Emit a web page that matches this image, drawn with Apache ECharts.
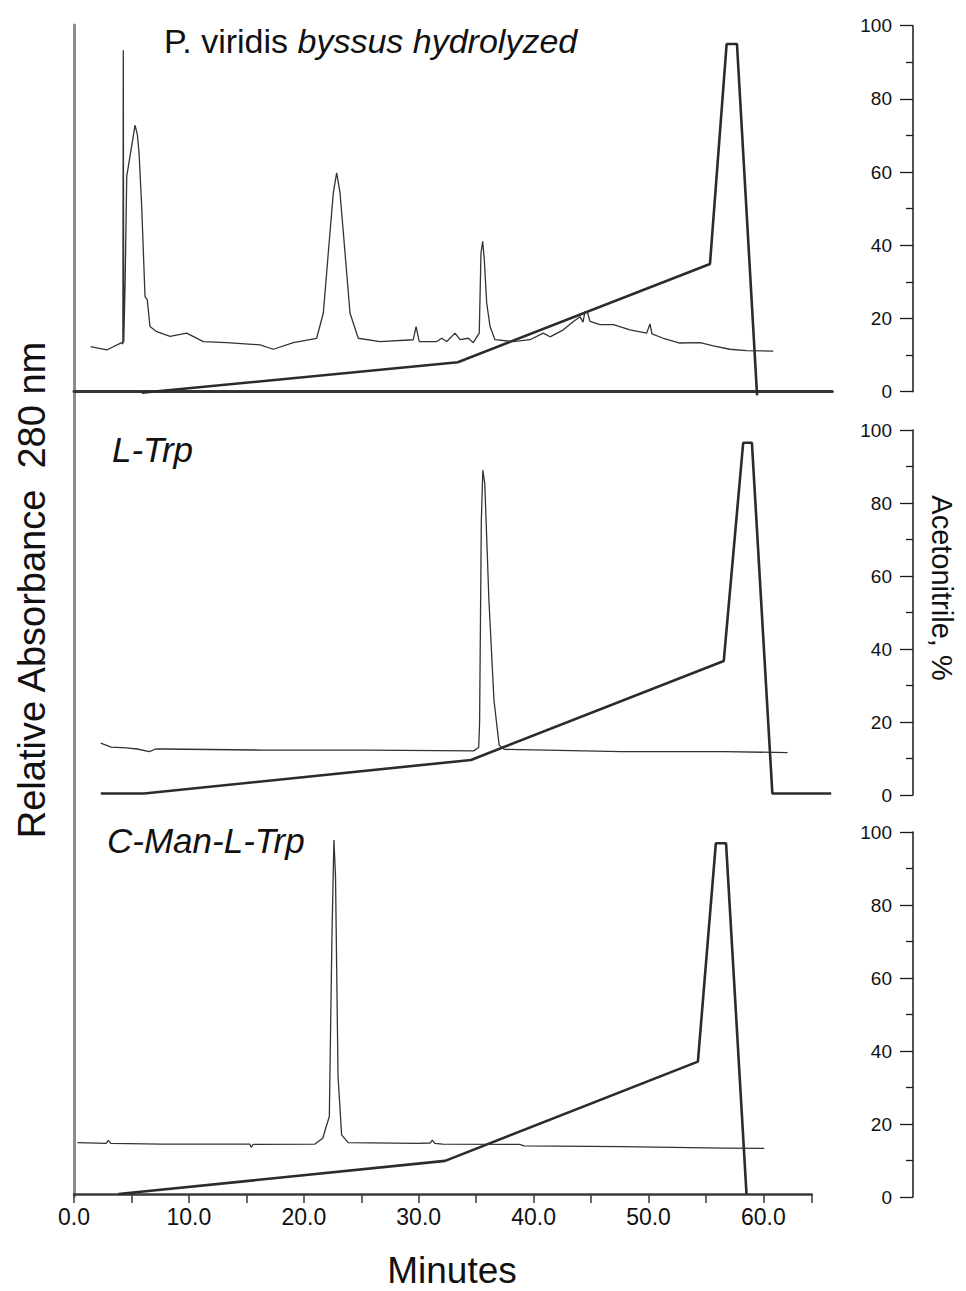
<!DOCTYPE html>
<html>
<head>
<meta charset="utf-8">
<script src="https://cdn.jsdelivr.net/npm/echarts@6/dist/echarts.min.js"></script>
<style>
html,body{margin:0;padding:0;background:#fff;}
#chart{width:966px;height:1291px;}
</style>
</head>
<body>
<div id="chart"></div>
<script>
// ---- Data (time in minutes, absorbance in relative units, gradient in % acetonitrile) ----
const topTrace = [
  [1.45,12.3],[2.85,11.4],[4.15,13.4],[4.25,13.0],[4.29,93.3],[4.33,13.5],[4.45,30],[4.59,58.9],
  [5.02,67.1],[5.31,72.8],[5.51,70.3],[5.66,65.3],[5.89,50.7],[6.18,26],[6.38,25.1],[6.61,17.8],
  [7.2,16.4],[8.36,15.1],[9.81,16],[11.25,13.7],[13.29,13.4],[16.19,12.8],[17.35,11.6],[19.09,13.4],
  [21.12,14.6],[21.7,21.5],[22.13,37.9],[22.57,54.4],[22.86,59.8],[23.15,54.4],[23.59,37.9],[24.02,21.5],
  [24.74,14.6],[26.63,13.7],[29.53,14.2],[29.77,17.8],[30.05,13.7],[31.57,13.7],[32.0,14.6],[32.44,13.7],
  [33.16,16],[33.59,14.2],[34.32,14.6],[34.75,13.4],[35.27,16],[35.42,37.9],[35.57,41.1],[35.71,36],
  [35.92,24.2],[36.21,17.8],[36.64,14.2],[38.23,13.7],[39.69,14.2],[40.84,16],[41.43,15],[42.59,16.9],
  [43.46,19.2],[44.04,20.5],[44.3,19.0],[44.47,21.9],[44.7,21.5],[44.91,19.2],[45.78,18.3],[46.94,18.3],
  [48.39,16.9],[49.84,16],[50.13,18.5],[50.3,15.8],[51.29,14.6],[52.72,13.3],[54.49,13.4],[55.64,12.5],
  [57.08,11.6],[58.55,11.2],[60.86,11.1]
];
const topGradient = [[5.9,-0.3],[33.4,8.05],[55.35,34.9],[56.8,95],[57.7,95],[59.45,-1]];

const midTrace = [
  [2.33,14.2],[3.23,13.1],[4.56,12.9],[5.5,12.6],[6.56,11.9],[7.1,12.6],[7.67,12.6],[16.55,12.3],
  [25.45,12.3],[34.78,12.1],[35.22,13],[35.3,20],[35.45,75],[35.58,89],[35.75,85.4],[36.11,53.4],
  [36.55,26],[37.0,13.7],[37.44,12.5],[47.67,11.9],[56.55,11.9],[62.1,11.6]
];
const midGradient = [[2.33,0.4],[6.1,0.4],[34.55,9.6],[56.55,36.7],[58.24,96.5],[59.0,96.5],[60.78,0.4],[65.9,0.4]];

const botTrace = [
  [0.3,14.9],[2.8,14.7],[2.98,15.5],[3.2,14.7],[7.64,14.5],[15.3,14.5],[15.42,13.6],[15.6,14.4],
  [20.97,14.5],[21.65,16.1],[21.95,19.3],[22.22,22],[22.44,69.5],[22.62,97.8],[22.76,87.8],[22.98,33],
  [23.29,17],[23.86,14.9],[29.86,14.7],[31.0,14.8],[31.19,15.6],[31.4,14.7],[32.08,14.5],[38.75,14.4],
  [39.19,14],[47.64,13.8],[56.53,13.4],[60.08,13.3]
];
const botGradient = [[3.87,0.8],[32.3,9.9],[54.3,37.1],[55.86,96.9],[56.75,96.9],[58.53,0.8]];

const panelTitles = ['{a|P. viridis }{b|byssus hydrolyzed}', '{b|L-Trp}', '{b|C-Man-L-Trp}'];
const yAxisTitle = 'Relative Absorbance  280 nm';
const y2AxisTitle = 'Acetonitrile, %';
const xAxisTitle = 'Minutes';

// ---- Layout ----
const PX_PER_MIN = 11.49;
const X0 = 74;
const AXIS_X = 913;
const FONT = '"Liberation Sans", Arial, sans-serif';
const TRACE = '#333333';
const GRAD = '#2b2b2b';

const panels = [
  {top: 25.7, height: 366, xmax: 66},
  {top: 430, height: 365, xmax: 66},
  {top: 832, height: 365, xmax: 64.2}
];

const grids = [{left: X0, top: 25, width: 700, height: 1171}];
panels.forEach(p => grids.push({left: X0, top: p.top, width: p.xmax * PX_PER_MIN, height: p.height}));

const rightAxis = (gridIndex, p) => ({
  type: 'value', gridIndex, position: 'right', min: 0, max: 100, interval: 20,
  offset: AXIS_X - (X0 + p.xmax * PX_PER_MIN),
  axisLine: {show: true, lineStyle: {color: '#1a1a1a', width: 1.5}},
  axisTick: {show: true, inside: true, length: 13, lineStyle: {color: '#1a1a1a', width: 1.3}},
  minorTick: {show: true, splitNumber: 2, length: 7, lineStyle: {color: '#1a1a1a', width: 1.3}},
  axisLabel: {show: true, inside: true, margin: 21, color: '#111', fontFamily: FONT, fontSize: 19},
  splitLine: {show: false}
});
const hiddenY = (gridIndex) => ({type: 'value', gridIndex, min: 0, max: 100, show: false});

const xAxes = [
  {type: 'value', gridIndex: 0, show: false, min: 0, max: 1},
  {type: 'value', gridIndex: 1, min: 0, max: 66, offset: 4,
   axisLine: {show: true, lineStyle: {color: '#353535', width: 3}},
   axisTick: {show: false}, axisLabel: {show: false}, splitLine: {show: false}},
  {type: 'value', gridIndex: 2, min: 0, max: 66, show: false},
  {type: 'value', gridIndex: 3, min: 0, max: 64.2, interval: 5, offset: -3,
   axisLine: {show: true, lineStyle: {color: '#3a3a3a', width: 2.5}},
   axisTick: {show: true, length: 9, lineStyle: {color: '#3a3a3a', width: 1.5}},
   axisLabel: {show: true, margin: 11, color: '#111', fontFamily: '"Liberation Sans Narrow", "Liberation Sans", sans-serif', fontSize: 23,
     formatter: v => (Math.abs(v % 10) < 1e-9 ? v.toFixed(1) : '')},
   splitLine: {show: false}}
];

const yAxes = [
  {type: 'value', gridIndex: 0, min: 0, max: 1,
   axisLine: {show: true, lineStyle: {color: '#8c8c8c', width: 3}},
   axisTick: {show: false}, axisLabel: {show: false}, splitLine: {show: false}},
  hiddenY(1), rightAxis(1, panels[0]),
  hiddenY(2), rightAxis(2, panels[1]),
  hiddenY(3), rightAxis(3, panels[2])
];

const traceSeries = (data, xi, yi) => ({
  type: 'line', data, xAxisIndex: xi, yAxisIndex: yi, symbol: 'none', clip: false,
  lineStyle: {color: TRACE, width: 1.3}, z: 3, animation: false
});
const gradSeries = (data, xi, yi) => ({
  type: 'line', data, xAxisIndex: xi, yAxisIndex: yi, symbol: 'none', clip: false,
  lineStyle: {color: GRAD, width: 2.6}, z: 2, animation: false
});

const titleRich = {
  a: {fontFamily: FONT, fontSize: 34, fontWeight: 'normal', color: '#111'},
  b: {fontFamily: FONT, fontSize: 34, fontWeight: 'normal', fontStyle: 'italic', color: '#111'}
};
const titleRich2 = {
  b: {fontFamily: FONT, fontSize: 35, fontWeight: 'normal', fontStyle: 'italic', color: '#111'}
};

const option = {
  backgroundColor: '#fff',
  animation: false,
  title: [
    {text: panelTitles[0], left: 164, top: 24, padding: 0, textStyle: {fontWeight: 'normal', rich: titleRich}},
    {text: panelTitles[1], left: 112, top: 432, padding: 0, textStyle: {fontWeight: 'normal', rich: titleRich2}},
    {text: panelTitles[2], left: 107, top: 823, padding: 0, textStyle: {fontWeight: 'normal', rich: titleRich2}}
  ],
  grid: grids,
  xAxis: xAxes,
  yAxis: yAxes,
  series: [
    gradSeries(topGradient, 1, 2), traceSeries(topTrace, 1, 1),
    gradSeries(midGradient, 2, 4), traceSeries(midTrace, 2, 3),
    gradSeries(botGradient, 3, 6), traceSeries(botTrace, 3, 5)
  ],
  graphic: [
    {type: 'text', x: 32, y: 590, rotation: Math.PI / 2,
     style: {text: yAxisTitle, font: '38px "Liberation Sans", Arial, sans-serif', fill: '#111', align: 'center', verticalAlign: 'middle'}},
    {type: 'text', x: 942, y: 588, rotation: -Math.PI / 2,
     style: {text: y2AxisTitle, font: '29px "Liberation Sans", Arial, sans-serif', fill: '#111', align: 'center', verticalAlign: 'middle'}},
    {type: 'text', x: 452, y: 1270,
     style: {text: xAxisTitle, font: '37px "Liberation Sans", Arial, sans-serif', fill: '#111', align: 'center', verticalAlign: 'middle'}}
  ]
};

const chart = echarts.init(document.getElementById('chart'), null, {renderer: 'svg', width: 966, height: 1291});
chart.setOption(option);
</script>
</body>
</html>
